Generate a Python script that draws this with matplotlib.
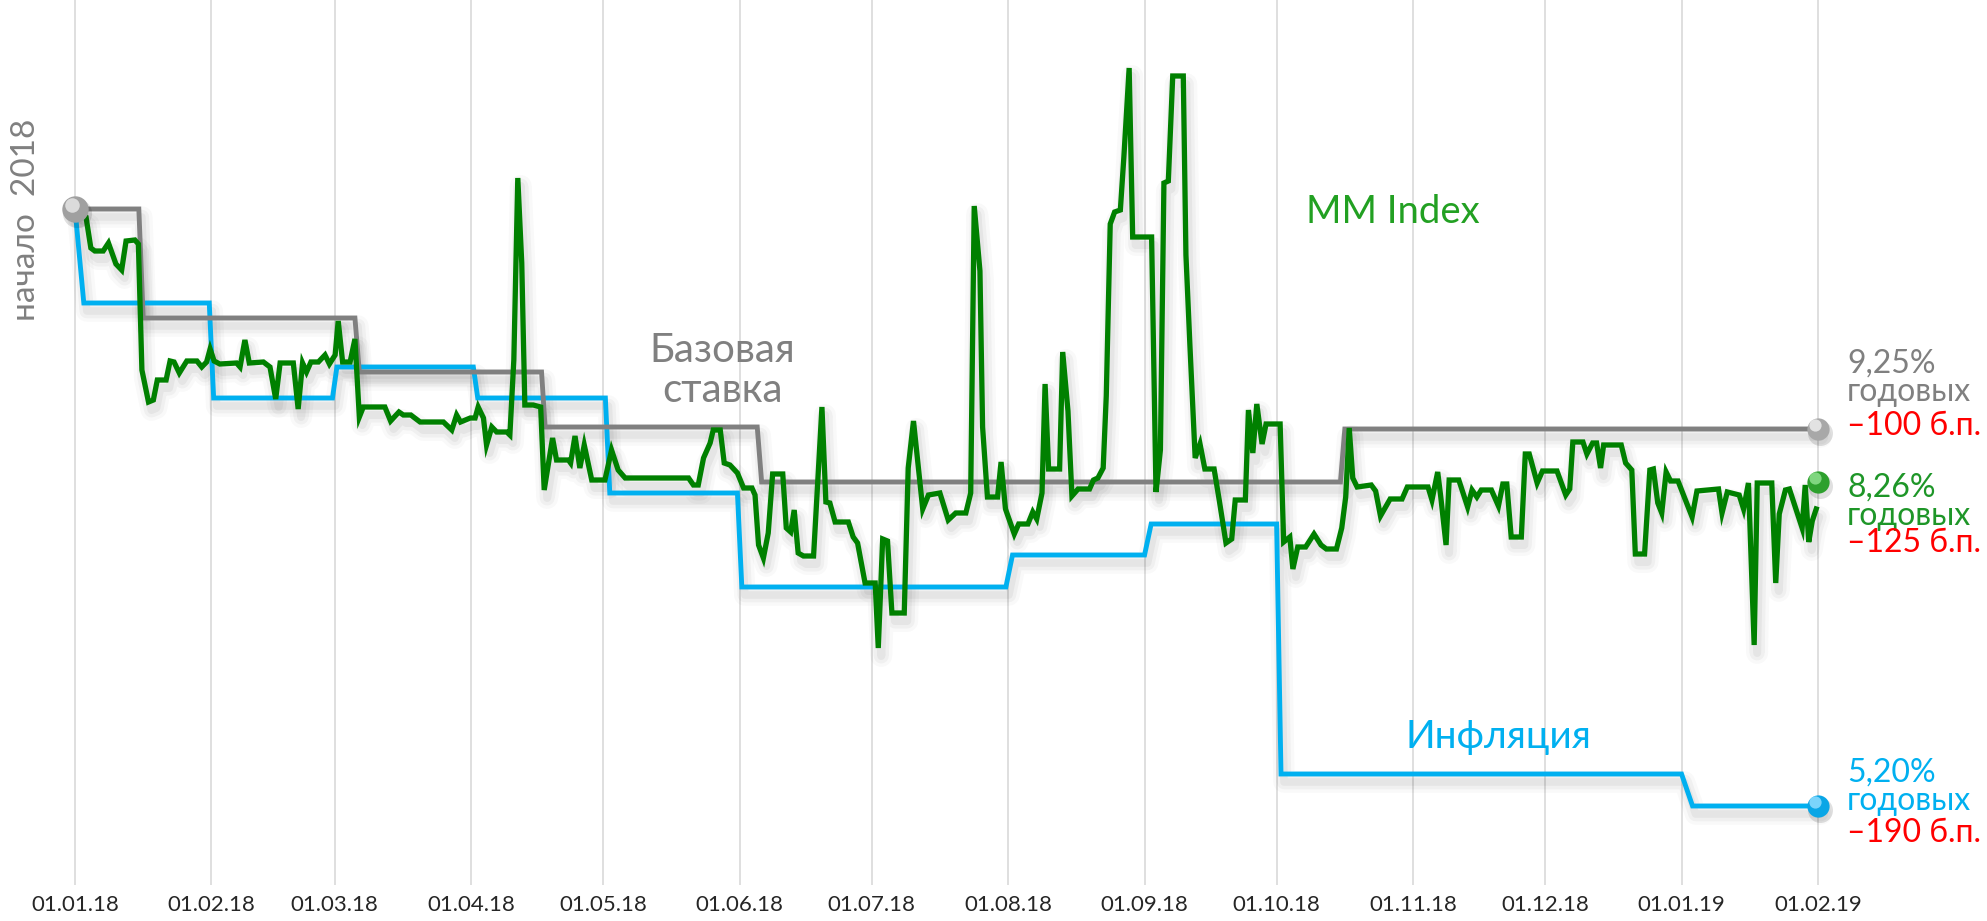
import numpy as np
import pandas as pd
import matplotlib
matplotlib.use('Agg')
import matplotlib.pyplot as plt
import matplotlib.transforms as mtransforms

# x = days since 01.01.18, y = relative level vs start of 2018 (arbitrary units)
start = pd.Timestamp('2018-01-01')
month_starts = pd.date_range('2018-01-01', '2019-02-01', freq='MS')
tick_days = [(d - start).days for d in month_starts]
tick_labels = [d.strftime('%d.%m.%y') for d in month_starts]

# key rate (Базовая ставка)
key_days = [0, 14.5, 15.5, 63.6, 64.6, 106, 106.8, 155, 156, 287.5, 288.5, 396]
key_vals = [0, 0, -109, -109, -163, -163, -218, -218, -273, -273, -220, -220]

# inflation (Инфляция)
infl_days = [0, 2, 30.5, 31.5, 58.5, 59.5, 90.5, 91.5, 120.5, 121.5, 150.5, 151.5,
             211.5, 213, 243, 244.5, 273, 274, 365, 367.5, 396]
infl_vals = [0, -94, -94, -189, -189, -158, -158, -189, -189, -284, -284, -378,
             -378, -346, -346, -315, -315, -565, -565, -597, -597]

# MM Index
mm_days = [0, 2.5, 3.6, 4.5, 6.4, 7.6, 9.3, 10.6, 11.6, 13.6, 14.4, 15.2, 16.7, 17.8, 18.7,
           20.7, 21.6, 22.5, 23.7, 25.4, 27.7, 28.8, 29.9, 30.7, 31.6, 32.9, 36.7, 37.5, 38.6,
           39.6, 42.8, 44.3, 45.6, 46.6, 49.6, 50.7, 51.7, 52.6, 53.6, 55.3, 56.8, 57.8, 59.1,
           59.8, 60.8, 62.5, 63.6, 64.6, 65.5, 70.4, 71.7, 73.6, 74.6, 76.3, 78.4, 83.7, 85.6,
           86.7, 87.6, 89.8, 90.9, 91.6, 92.8, 93.5, 94.7, 95.8, 98.1, 98.8, 99.7, 100.6, 101.5,
           102.2, 104.1, 105.8, 106.6, 108.5, 109.4, 112.1, 112.6, 113.6, 114.7, 115.7, 117.4,
           120.4, 121.9, 123.4, 125, 139.4, 140.5, 141.6, 142.8, 144.3, 145, 146.6, 147.5, 148.8,
           150.5, 151.9, 153.8, 154.5, 155.3, 156.4, 157.5, 158.5, 160.8, 161.6, 162.6, 163.4,
           164.3, 165.5, 167.8, 169.7, 170.6, 171.5, 172.7, 175.7, 176.8, 177.8, 179.5, 181.8,
           182.5, 183.5, 184.6, 185.6, 188.4, 189.3, 190.5, 192.6, 193.9, 196.5, 198.4, 200.1,
           202.4, 203.5, 204.3, 205.6, 206.2, 207.3, 209.6, 210.4, 211.4, 213.4, 214.4, 216.5,
           217.6, 218.5, 219.7, 220.4, 221.2, 223.7, 224.4, 225.6, 226.5, 227.9, 230.5, 231.4,
           232.4, 233.6, 234.3, 235.2, 236.2, 237.5, 238.3, 239.5, 240.3, 244.6, 245.6, 246.6,
           247.4, 248.4, 249.4, 251.8, 252.4, 253.3, 254.5, 255.6, 256.7, 258.8, 260, 261.5,
           262.8, 263.6, 265.9, 266.6, 267.6, 268.5, 269.7, 270.6, 273.8, 274.6, 276, 276.7,
           277.8, 279.6, 281.5, 283.1, 284.3, 286.6, 287.8, 288.7, 289.5, 290.3, 291.3, 294.5,
           295.5, 296.6, 298.8, 301.5, 302.7, 307.4, 308.3, 309.6, 310.3, 311.5, 312.2, 314.4,
           316.4, 317.4, 318.5, 319.5, 321.8, 323.4, 324.4, 325.3, 326.3, 328.6, 329.5, 330.4,
           332.2, 333.4, 336.7, 338.7, 339.6, 340.3, 342.6, 343.5, 344.8, 345.7, 346.6, 347.3,
           351.3, 352.3, 353.7, 354.5, 356.6, 357.8, 358.6, 359.6, 360.5, 361.5, 362.5, 364.2,
           367.4, 368.5, 373.4, 374.2, 375.4, 378.1, 379.1, 380.2, 381.5, 382.2, 385.5, 386.4,
           387.2, 388.6, 389.5, 392.4, 393.1, 393.9, 394.7, 395.6]
mm_vals = [0, -8, -39, -42, -42, -34, -55, -61, -32, -31, -35, -161, -193, -191, -171,
           -171, -152, -153, -164, -152, -152, -158, -153, -140, -152, -155, -154, -158, -131,
           -154, -153, -158, -190, -154, -154, -200, -154, -163, -153, -153, -146, -155, -146,
           -112, -153, -153, -130, -208, -198, -198, -212, -203, -206, -206, -213, -213, -221,
           -206, -213, -209, -209, -198, -209, -236, -218, -223, -223, -226, -151, 31, -54,
           -196, -196, -198, -281, -229, -251, -251, -254, -227, -259, -236, -271,
           -271, -241, -261, -269, -269, -276, -276, -249, -234, -221, -221, -254, -256,
           -264, -279, -279, -286, -336, -349, -324, -265, -265, -319, -323, -301,
           -344, -347, -347, -198, -293, -294, -313, -313, -328, -334, -374, -374,
           -439, -330, -332, -404, -404, -259, -212, -300, -286, -284, -311, -304,
           -304, -284, 3, -62, -218, -288, -288, -253, -300, -325, -315, -315,
           -303, -310, -284, -175, -260, -260, -143, -202, -287, -280, -280, -271,
           -269, -259, -187, -15, -3, -1, 52, 141, -28, -28, -283, -241,
           26, 28, 133, 133, -46, -136, -249, -235, -260, -260, -292, -334,
           -330, -291, -291, -201, -244, -195, -235, -215, -215, -333, -328, -360,
           -338, -338, -325, -336, -340, -340, -319, -288, -219, -269, -278, -276,
           -282, -307, -290, -290, -278, -278, -291, -263, -288, -336, -271, -271,
           -298, -281, -288, -281, -281, -297, -275, -275, -328, -328, -245, -245,
           -274, -262, -262, -286, -280, -233, -233, -245, -234, -234, -259, -236,
           -236, -254, -261, -345, -345, -261, -260, -294, -304, -263, -272, -272,
           -308, -282, -280, -304, -283, -286, -300, -274, -436, -274, -274, -374,
           -305, -281, -280, -319, -276, -333, -312, -300]

# end-point markers and labels
end_day = 396
key_end, mm_end, infl_end = -220, -273, -597
key_text = ['9,25%', 'годовых', '–100 б.п.']
mm_text = ['8,26%', 'годовых', '–125 б.п.']
infl_text = ['5,20%', 'годовых', '–190 б.п.']

GREEN = '#008000'
GRAY = '#808080'
BLUE = '#00B0F0'
RED = '#FF0000'
TXT_GREEN = '#1E9628'

plt.rcParams['font.family'] = ['Lato', 'DejaVu Sans']

fig = plt.figure(figsize=(19.87, 9.21), dpi=100)
ax = fig.add_axes([0, 36 / 921, 1, 885 / 921])
ax.set_xlim(-17.04, 434.4)
ax.set_ylim(209 - 885, 209)
for s in ax.spines.values():
    s.set_visible(False)
ax.set_yticks([])

# vertical month grid
for d in tick_days:
    ax.axvline(d, color='#D9D9D9', lw=1.2, zorder=0)
ax.set_xticks(tick_days)
ax.set_xticklabels(tick_labels, fontsize=16, color='#262626')
ax.tick_params(axis='x', length=0, pad=7)


def shadow(x, y, lw):
    tr = mtransforms.offset_copy(ax.transData, fig=fig, x=3, y=-8, units='dots')
    for w, a in [(lw + 12, 0.025), (lw + 7, 0.035), (lw + 2, 0.045)]:
        ax.plot(x, y, color='black', lw=w, alpha=a, transform=tr,
                solid_joinstyle='round', solid_capstyle='round', zorder=1)


def sphere(x, y, base, light, ms=16):
    tr = mtransforms.offset_copy(ax.transData, fig=fig, x=2, y=-4, units='dots')
    ax.plot(x, y, 'o', ms=ms + 2, color='black', alpha=0.12, mec='none',
            transform=tr, zorder=6, clip_on=False)
    ax.plot(x, y, 'o', ms=ms, color=base, mec='none', zorder=7, clip_on=False)
    tr2 = mtransforms.offset_copy(ax.transData, fig=fig, x=-3, y=4, units='dots')
    ax.plot(x, y, 'o', ms=ms * 0.55, color=light, alpha=0.85, mec='none',
            transform=tr2, zorder=8, clip_on=False)


shadow(infl_days, infl_vals, 3.5)
shadow(key_days, key_vals, 3.5)
shadow(mm_days, mm_vals, 3.8)
ax.plot(infl_days, infl_vals, color=BLUE, lw=3.5, zorder=3, solid_joinstyle='miter')
ax.plot(key_days, key_vals, color=GRAY, lw=3.5, zorder=4, solid_joinstyle='miter')
ax.plot(mm_days, mm_vals, color=GREEN, lw=3.8, zorder=5, solid_joinstyle='miter')

sphere(0, 0, '#A0A0A0', '#E6E6E6', ms=19)
sphere(end_day, key_end, '#A8A8A8', '#EDEDED')
sphere(end_day, mm_end, '#2DA02D', '#8EE08E')
sphere(end_day, infl_end, '#0AA6E6', '#8FDDFF')

# series labels
ax.text(147, -161, 'Базовая\nставка', color=GRAY, fontsize=29, ha='center', va='center',
        linespacing=1.1)
ax.text(299.3, -3, 'MM Index', color='#22A022', fontsize=27.5, ha='center', va='center')
ax.text(323.3, -528, 'Инфляция', color=BLUE, fontsize=28, ha='center', va='center')
ax.text(-11.1, -11, 'начало  2018', color=GRAY, fontsize=24, rotation=90,
        ha='center', va='center')

# right-hand labels: two coloured lines in one text, red change line separately
lx = 402.6
for texts, col, ys in [(key_text, GRAY, [-164, -226]),
                       (mm_text, TXT_GREEN, [-288, -343]),
                       (infl_text, BLUE, [-573, -633])]:
    ax.text(lx, ys[0], texts[0] + '\n' + texts[1], color=col, fontsize=23,
            va='top', ha='left', linespacing=0.92,
            transform=mtransforms.offset_copy(ax.transData, fig=fig, y=24, units='dots'))
    ax.text(lx, ys[1], texts[2], color=RED, fontsize=23, va='baseline', ha='left')

fig.savefig('out.png', dpi=100)
